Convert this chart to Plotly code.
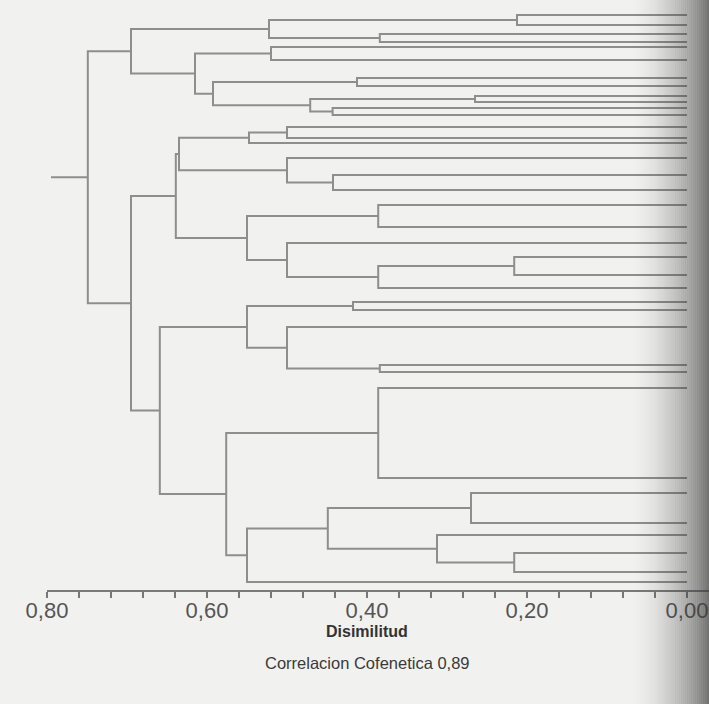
import plotly.graph_objects as go

# Leaf positions along the vertical (leaf) axis, top to bottom
leaf_pos = [15, 25, 34, 42, 47, 60, 78, 86, 96, 102, 108, 115,
            127, 138, 143, 158, 175, 190, 205, 227, 243, 257, 275, 288,
            302, 310, 327, 365, 372, 388, 478, 493, 523, 535, 553, 572, 582]
n_leaves = len(leaf_pos)

# Agglomeration steps: (child_a, child_b, dissimilarity)
# ids < n_leaves are leaves, id n_leaves + k is the cluster formed at step k
merge_a = [0, 2, 37, 4, 6, 8, 10, 42, 41, 40, 39,
           12, 48, 16, 15, 49, 18, 21, 54, 20, 53, 52,
           24, 27, 26, 59, 29, 31, 34, 33, 64, 67, 63, 62, 58, 47]
merge_b = [1, 3, 38, 5, 7, 9, 11, 43, 44, 45, 46,
           13, 14, 17, 50, 51, 19, 22, 23, 55, 56, 57,
           25, 28, 60, 61, 30, 32, 35, 65, 66, 36, 68, 69, 70, 71]
merge_h = [0.2125, 0.384, 0.5225, 0.52, 0.4125, 0.265, 0.443, 0.471, 0.5925, 0.615, 0.695,
           0.50, 0.5475, 0.4425, 0.50, 0.635, 0.386, 0.216, 0.386, 0.50, 0.55, 0.639,
           0.4175, 0.384, 0.50, 0.55, 0.386, 0.27, 0.216, 0.3125, 0.449, 0.55, 0.576,
           0.659, 0.695, 0.749]
root_stub = 0.795

x_ticks = [0.80, 0.60, 0.40, 0.20, 0.00]
x_tick_text = ["0,80", "0,60", "0,40", "0,20", "0,00"]
x_title = "Disimilitud"
subtitle = "Correlacion Cofenetica 0,89"

# Build the elbow segments of the dendrogram
node_y = list(leaf_pos)
node_h = [0.0] * n_leaves
xs, ys = [], []
for a, b, h in zip(merge_a, merge_b, merge_h):
    ya, yb = node_y[a], node_y[b]
    ha, hb = node_h[a], node_h[b]
    xs += [ha, h, h, hb, None]
    ys += [ya, ya, yb, yb, None]
    node_y.append((ya + yb) / 2)
    node_h.append(h)
xs += [node_h[-1], root_stub, None]
ys += [node_y[-1], node_y[-1], None]

W, H = 709, 704
L, R, T, B = 47, 0, 0, 114
plot_w = W - L - R
plot_h = H - T - B


def px_x(p):
    return (p - L) / plot_w


def px_y(p):
    return (H - B - p) / plot_h


fig = go.Figure()
fig.add_trace(go.Scatter(x=xs, y=ys, mode="lines",
                         line=dict(color="#8e8e8e", width=2),
                         hoverinfo="skip", showlegend=False))

# 0.80 sits at the left edge of the plot area, 0.00 lies 22 px short of the right edge
x_right = -22 / 800
fig.update_xaxes(range=[0.80, x_right], tickvals=x_ticks, ticktext=x_tick_text,
                 ticks="outside", ticklen=6, tickwidth=1.5, tickcolor="#777777",
                 ticklabelstandoff=-6,
                 minor=dict(dtick=0.04, tick0=0, ticks="outside", ticklen=6,
                            tickwidth=1.5, tickcolor="#777777"),
                 showline=True, linecolor="#7a7a7a", linewidth=2,
                 showgrid=False, zeroline=False,
                 tickfont=dict(family="Liberation Sans, Arial", size=22, color="#555555"))
fig.update_yaxes(range=[590, 0], visible=False, showgrid=False, zeroline=False)

# Scanner shadow along the right edge
shapes = []
steps = 40
x0p, x1p = 628, W
for i in range(steps):
    t0 = i / steps
    t1 = (i + 1) / steps
    alpha = 0.72 * (t0 ** 1.8)
    shapes.append(dict(type="rect", xref="paper", yref="paper",
                       x0=px_x(x0p + (x1p - x0p) * t0), x1=px_x(x0p + (x1p - x0p) * t1),
                       y0=px_y(H), y1=px_y(0), line=dict(width=0),
                       fillcolor=f"rgba(60,60,60,{alpha:.3f})", layer="above"))

fig.update_layout(
    width=W, height=H,
    margin=dict(l=L, r=R, t=T, b=B),
    paper_bgcolor="#f1f1f0", plot_bgcolor="#f1f1f0",
    shapes=shapes,
    annotations=[
        dict(text=f"<b>{x_title}</b>", x=px_x(367), y=px_y(631), xref="paper", yref="paper",
             showarrow=False, xanchor="center", yanchor="middle",
             font=dict(family="Liberation Sans, Arial", size=16, color="#333333")),
        dict(text=subtitle, x=px_x(367), y=px_y(663), xref="paper", yref="paper",
             showarrow=False, xanchor="center", yanchor="middle",
             font=dict(family="Liberation Sans, Arial", size=16.5, color="#3a3a3a")),
    ],
)

fig.write_html("out.html")
